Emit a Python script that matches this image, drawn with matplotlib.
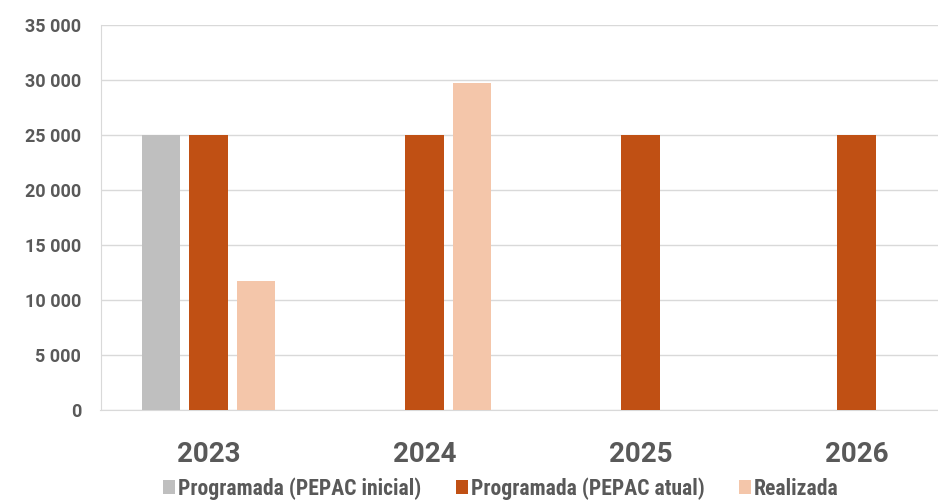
import numpy as np
import matplotlib
matplotlib.use("Agg")
import matplotlib.pyplot as plt

# data
years = ["2023", "2024", "2025", "2026"]
prog_inicial = [25000, np.nan, np.nan, np.nan]
prog_atual = [25000, 25000, 25000, 25000]
realizada = [11700, 29700, np.nan, np.nan]
series_names = ["Programada (PEPAC inicial)", "Programada (PEPAC atual)", "Realizada"]
yticks = [0, 5000, 10000, 15000, 20000, 25000, 30000, 35000]

colors = ["#BFBFBF", "#C05014", "#F4C6AA"]
text_color = "#595959"

plt.rcParams["font.family"] = ["Roboto", "DejaVu Sans"]

fig = plt.figure(figsize=(9.38, 5.04), dpi=100)
ax = fig.add_axes([100.5 / 938, 94 / 504, 864 / 938, 385 / 504])

x = np.arange(len(years))
width = 0.176
offsets = [-0.22, 0.0, 0.22]
for vals, off, col, name in zip([prog_inicial, prog_atual, realizada], offsets, colors, series_names):
    ax.bar(x + off, vals, width=width, color=col, label=name, zorder=3)

ax.set_xlim(-0.5, len(years) - 0.5)
ax.set_ylim(0, 35000)
ax.set_yticks(yticks)
ax.set_yticklabels([f"{v:,}".replace(",", " ") for v in yticks])
ax.set_xticks(x)
ax.set_xticklabels(years)

ax.grid(axis="y", color="#D9D9D9", linewidth=1, zorder=0)
for s in ["top", "right"]:
    ax.spines[s].set_visible(False)
ax.spines["left"].set_color("#D9D9D9")
ax.spines["bottom"].set_color("#D9D9D9")
ax.tick_params(axis="both", length=0)
ax.tick_params(axis="y", pad=14, labelsize=13, labelcolor=text_color)
ax.tick_params(axis="x", pad=22, labelsize=20, labelcolor=text_color)
for lab in ax.get_xticklabels() + ax.get_yticklabels():
    lab.set_fontweight("bold")

fig.legend(loc="center", bbox_to_anchor=(0.534, 0.031), ncol=3, frameon=False,
           prop={"family": ["Roboto Condensed", "DejaVu Sans"], "size": 15.6, "weight": "bold"},
           labelcolor=text_color,
           handlelength=0.55, handleheight=0.55, handletextpad=0.14, columnspacing=1.6)

fig.savefig("out.png", dpi=100)
